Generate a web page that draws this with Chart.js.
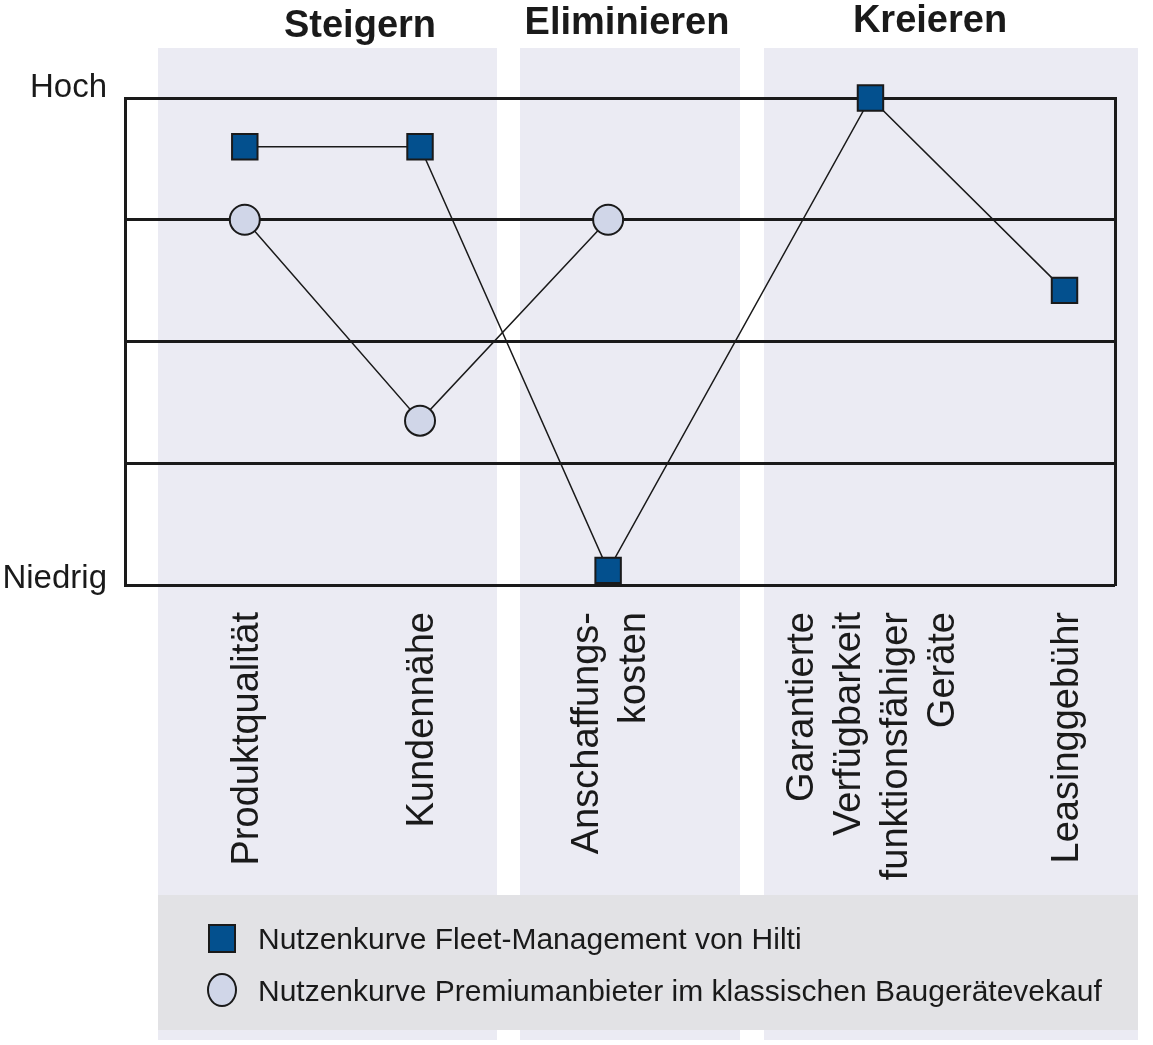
<!DOCTYPE html>
<html lang="de">
  <head>
    <meta charset="UTF-8" />
    <title>Nutzenkurve Fleet-Management</title>
    <script src="https://cdn.jsdelivr.net/npm/chart.js"></script>
    <style>
      html, body { margin: 0; padding: 0; background: #ffffff; }
      #wrap { width: 1153px; height: 1045px; }
    </style>
  </head>
  <body>
    <div id="wrap">
      <canvas id="valueCurve" width="1153" height="1045"></canvas>
    </div>

    <script>
      // categories (multi-line labels) and their position along the x axis
      const categories = [
        ["Produktqualität"],
        ["Kundennähe"],
        ["Anschaffungs-", "kosten"],
        ["Garantierte", "Verfügbarkeit", "funktionsfähiger", "Geräte"],
        ["Leasinggebühr"],
      ];
      const categoryPos = [1.21, 2.98, 4.88, 7.53, 9.49];

      // values: 0 = Niedrig, 4 = Hoch
      const hiltiValues = [3.6, 3.6, 0.12, 4.0, 2.42];
      const premiumValues = [3.0, 1.35, 3.0, null, null];

      const levelTicks = [0, 4];
      const levelLabels = ["Niedrig", "Hoch"];
      const groupTitles = ["Steigern", "Eliminieren", "Kreieren"];
      const seriesNames = [
        "Nutzenkurve Fleet-Management von Hilti",
        "Nutzenkurve Premiumanbieter im klassischen Baugerätevekauf",
      ];

      const FONT = "'Liberation Sans', Arial, Helvetica, sans-serif";
      const INK = "#1a1a1a";
      const HILTI_BLUE = "#03508e";
      const PREMIUM_FILL = "#d0d6e8";
      const PANEL = "#ebebf3";
      const LEGEND_BG = "#e2e2e5";

      Chart.defaults.font.family = FONT;

      function toPoints(values) {
        return values.map((v, i) => ({ x: categoryPos[i], y: v }));
      }

      // background panels, legend box, titles and labels
      const decorations = {
        id: "decorations",
        beforeDraw(chart) {
          const ctx = chart.ctx;
          ctx.save();
          ctx.fillStyle = PANEL;
          ctx.fillRect(158, 48, 339, 992);
          ctx.fillRect(520, 48, 220, 992);
          ctx.fillRect(764, 48, 374, 992);
          ctx.fillStyle = LEGEND_BG;
          ctx.fillRect(158, 895, 980, 135);
          ctx.restore();
        },
        afterDraw(chart) {
          const ctx = chart.ctx;
          const x = chart.scales.x;
          const y = chart.scales.y;
          const area = chart.chartArea;
          ctx.save();
          ctx.fillStyle = INK;

          // group titles
          ctx.font = "bold 38px " + FONT;
          ctx.textAlign = "center";
          ctx.textBaseline = "alphabetic";
          const titleX = [360, 627, 930];
          const titleY = [37, 34, 32];
          groupTitles.forEach((t, i) => ctx.fillText(t, titleX[i], titleY[i]));

          // level labels
          ctx.font = "33px " + FONT;
          ctx.textAlign = "right";
          levelTicks.forEach((v, i) => {
            const py = y.getPixelForValue(v) + (v === 0 ? 3 : -1);
            ctx.fillText(levelLabels[i], area.left - 18, py);
          });

          // vertical category labels
          ctx.font = "38px " + FONT;
          const lineH = 47;
          categories.forEach((lines, i) => {
            const px = x.getPixelForValue(categoryPos[i]);
            ctx.save();
            ctx.translate(px, 612);
            ctx.rotate(-Math.PI / 2);
            ctx.textAlign = "right";
            lines.forEach((line, j) => {
              const off = (j - (lines.length - 1) / 2) * lineH + 13;
              ctx.fillText(line, 0, off);
            });
            ctx.restore();
          });

          // legend
          ctx.lineWidth = 2;
          ctx.strokeStyle = INK;
          ctx.fillStyle = HILTI_BLUE;
          ctx.fillRect(209, 925, 26, 27);
          ctx.strokeRect(209, 925, 26, 27);
          ctx.beginPath();
          ctx.ellipse(222, 990, 14, 16, 0, 0, Math.PI * 2);
          ctx.fillStyle = PREMIUM_FILL;
          ctx.fill();
          ctx.stroke();

          ctx.fillStyle = INK;
          ctx.font = "30px " + FONT;
          ctx.textAlign = "left";
          ctx.fillText(seriesNames[0], 258, 949);
          ctx.fillText(seriesNames[1], 258, 1001);
          ctx.restore();
        },
      };

      new Chart(document.getElementById("valueCurve"), {
        type: "line",
        data: {
          datasets: [
            {
              label: seriesNames[1],
              data: toPoints(premiumValues),
              borderColor: INK,
              borderWidth: 1.5,
              pointStyle: "circle",
              pointRadius: 15,
              pointBackgroundColor: PREMIUM_FILL,
              pointBorderColor: INK,
              pointBorderWidth: 2,
              clip: false,
              spanGaps: false,
            },
            {
              label: seriesNames[0],
              data: toPoints(hiltiValues),
              borderColor: INK,
              borderWidth: 1.5,
              pointStyle: "rect",
              pointRadius: 18,
              pointBackgroundColor: HILTI_BLUE,
              pointBorderColor: INK,
              pointBorderWidth: 2,
              clip: false,
            },
          ],
        },
        options: {
          responsive: false,
          animation: false,
          devicePixelRatio: 1,
          layout: {
            padding: { left: 125, right: 38, top: 98, bottom: 460 },
          },
          plugins: {
            legend: { display: false },
            tooltip: { enabled: false },
          },
          scales: {
            x: {
              type: "linear",
              min: 0,
              max: 10,
              display: false,
            },
            y: {
              min: 0,
              max: 4,
              ticks: { display: false, stepSize: 1 },
              grid: { color: INK, lineWidth: 3, drawTicks: false },
              border: { display: true, color: INK, width: 3 },
              afterFit(scale) {
                scale.width = 0;
              },
            },
            yRight: {
              position: "right",
              min: 0,
              max: 4,
              ticks: { display: false },
              grid: { display: false, drawTicks: false },
              border: { display: true, color: INK, width: 3 },
              afterFit(scale) {
                scale.width = 0;
              },
            },
          },
        },
        plugins: [decorations],
      });
    </script>
  </body>
</html>
